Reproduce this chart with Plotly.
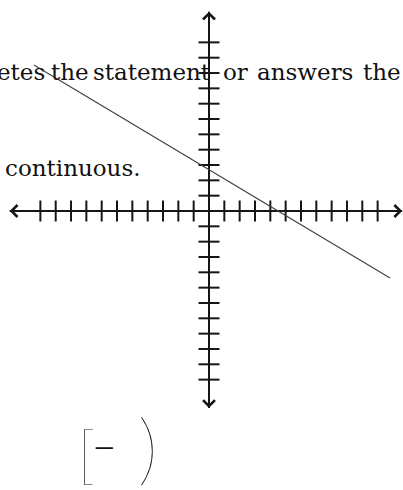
import plotly.graph_objects as go

# Number line tick values on each axis (origin left unmarked)
x_ticks = [v for v in range(-11, 12) if v != 0]
y_ticks = [v for v in range(-11, 12) if v != 0]

# Extent of each axis (arrow tips)
x_axis_ends = [-13.0, 12.6]
y_axis_ends = [-12.85, 13.0]

# The graphed line, end points
line_x = [-11.42, 11.81]
line_y = [9.52, -4.37]

# Words of the surrounding worksheet text
top_words = ["etes", "the", "statement", "or", "answers", "the"]
second_line = "continuous."
answer_marks = ["[", "\u2014", ")"]

W, H = 403, 490
U = 15.33          # pixels per unit
OX, OY = 209, 211  # pixel location of origin

INK = "#161616"
SERIF = "DejaVu Serif"

fig = go.Figure()

# axes
fig.add_trace(go.Scatter(x=x_axis_ends, y=[0, 0], mode="lines",
                         line=dict(color=INK, width=2), hoverinfo="skip"))
fig.add_trace(go.Scatter(x=[0, 0], y=y_axis_ends, mode="lines",
                         line=dict(color=INK, width=2), hoverinfo="skip"))

# tick marks crossing each axis
fig.add_trace(go.Scatter(x=x_ticks, y=[0] * len(x_ticks), mode="markers",
                         marker=dict(symbol="line-ns", size=15,
                                     line=dict(color=INK, width=2)),
                         hoverinfo="skip"))
fig.add_trace(go.Scatter(x=[0] * len(y_ticks), y=y_ticks, mode="markers",
                         marker=dict(symbol="line-ew", size=15,
                                     line=dict(color=INK, width=2)),
                         hoverinfo="skip"))

# the line
fig.add_trace(go.Scatter(x=line_x, y=line_y, mode="lines",
                         line=dict(color="#3f3f3f", width=1.1), hoverinfo="skip"))

annotations = []

# open arrowheads at the ends of both axes
for tip, tail in [((x_axis_ends[0], 0), (x_axis_ends[0] + 1, 0)),
                  ((x_axis_ends[1], 0), (x_axis_ends[1] - 1, 0)),
                  ((0, y_axis_ends[0]), (0, y_axis_ends[0] + 1)),
                  ((0, y_axis_ends[1]), (0, y_axis_ends[1] - 1))]:
    annotations.append(dict(x=tip[0], y=tip[1], ax=tail[0], ay=tail[1],
                            xref="x", yref="y", axref="x", ayref="y",
                            text="", showarrow=True, arrowhead=4,
                            arrowsize=1.15, arrowwidth=2, arrowcolor=INK))


def px(xp, yp):
    return xp / W, 1 - yp / H


# first line of text (word positions in pixels)
word_pos = [(47, "right"), (70, "center"), (152, "center"),
            (235.5, "center"), (305, "center"), (381.5, "center")]
for word, (xp, anchor) in zip(top_words, word_pos):
    x, y = px(xp, 72)
    annotations.append(dict(x=x, y=y, xref="paper", yref="paper", text=word,
                            showarrow=False, xanchor=anchor, yanchor="middle",
                            font=dict(family=SERIF, size=23, color="#111")))

x, y = px(143, 168)
annotations.append(dict(x=x, y=y, xref="paper", yref="paper", text=second_line,
                        showarrow=False, xanchor="right", yanchor="middle",
                        font=dict(family=SERIF, size=23, color="#111")))

# answer brackets
for mark, (xp, yp, size, wt) in zip(answer_marks,
                                    [(86, 452, 64, 200), (104, 446, 26, 400),
                                     (148, 445, 79, 200)]):
    x, y = px(xp, yp)
    annotations.append(dict(x=x, y=y, xref="paper", yref="paper", text=mark,
                            showarrow=False, xanchor="center", yanchor="middle",
                            font=dict(family="Lato", size=size, color="#111",
                                      weight=wt)))

fig.update_layout(
    width=W, height=H,
    margin=dict(l=0, r=0, t=0, b=0),
    paper_bgcolor="white", plot_bgcolor="white",
    showlegend=False,
    xaxis=dict(range=[-OX / U, (W - OX) / U], visible=False, fixedrange=True),
    yaxis=dict(range=[-(H - OY) / U, OY / U], visible=False, fixedrange=True),
    annotations=annotations,
)

fig.write_html("out.html")
